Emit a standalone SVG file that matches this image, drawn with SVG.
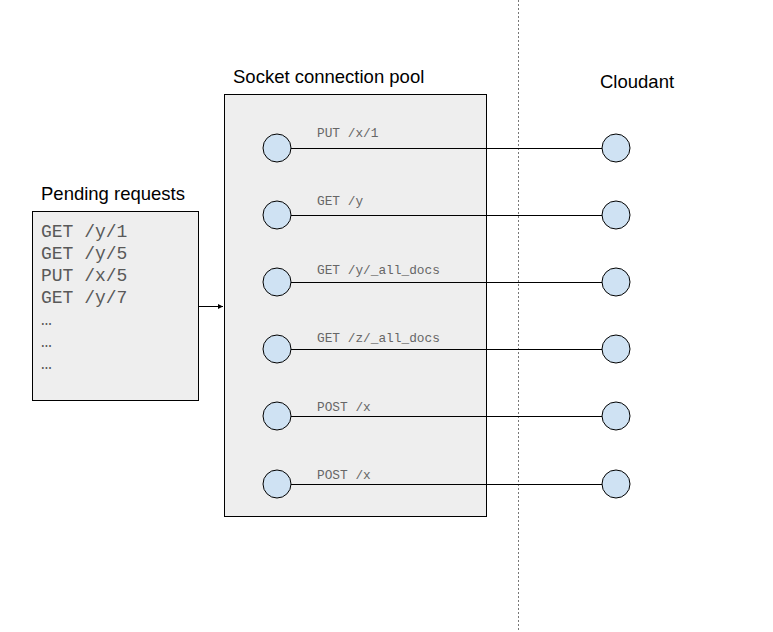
<svg xmlns="http://www.w3.org/2000/svg" width="773" height="632" viewBox="0 0 773 632">
<style>
.box{fill:#eeeeee;stroke:#000;stroke-width:1}
.node{fill:#cfe2f3;stroke:#000;stroke-width:1}
.title{font-family:"Liberation Sans",Arial,sans-serif;font-size:18.5px;fill:#000}
.req{font-family:"Liberation Mono","Courier New",monospace;font-size:18px;fill:#595959}
.lbl{font-family:"Liberation Mono","Courier New",monospace;font-size:12.8px;fill:#666}
.conn{stroke:#000;stroke-width:1;fill:none}
</style>
<defs>
<marker id="arr" markerWidth="6" markerHeight="6" refX="5" refY="3" orient="auto" markerUnits="userSpaceOnUse">
<path d="M0,0.5 L5,3 L0,5.5 z" fill="#000"/>
</marker>
</defs>
<rect width="773" height="632" fill="#fff"/>
<line x1="518.5" y1="0" x2="518.5" y2="632" stroke="#777" stroke-width="1" stroke-dasharray="2,2"/>
<g id="pending">
<text class="title" x="41" y="200">Pending requests</text>
<rect class="box" x="32.5" y="211.5" width="166" height="189"/>
<text class="req" x="41" y="237">GET /y/1</text>
<text class="req" x="41" y="259">GET /y/5</text>
<text class="req" x="41" y="281">PUT /x/5</text>
<text class="req" x="41" y="303">GET /y/7</text>
<text class="req" x="41" y="325" font-size="12">…</text>
<text class="req" x="41" y="347" font-size="12">…</text>
<text class="req" x="41" y="369" font-size="12">…</text>
</g>
<g id="pool">
<text class="title" x="233" y="83">Socket connection pool</text>
<rect class="box" x="224.5" y="94.5" width="262" height="422"/>
</g>
<g id="cloudant-title">
<text class="title" x="600" y="88">Cloudant</text>
</g>
<g id="connectors">
<line class="conn" x1="198.5" y1="306.5" x2="223" y2="306.5" marker-end="url(#arr)"/>
<line class="conn" x1="291" y1="148.5" x2="602" y2="148.5"/>
<line class="conn" x1="291" y1="215.5" x2="602" y2="215.5"/>
<line class="conn" x1="291" y1="282.5" x2="602" y2="282.5"/>
<line class="conn" x1="291" y1="349.5" x2="602" y2="349.5"/>
<line class="conn" x1="291" y1="416.5" x2="602" y2="416.5"/>
<line class="conn" x1="291" y1="484.5" x2="602" y2="484.5"/>
<text class="lbl" x="317" y="137">PUT /x/1</text>
<text class="lbl" x="317" y="205">GET /y</text>
<text class="lbl" x="317" y="274">GET /y/_all_docs</text>
<text class="lbl" x="317" y="342">GET /z/_all_docs</text>
<text class="lbl" x="317" y="411">POST /x</text>
<text class="lbl" x="317" y="479">POST /x</text>
</g>
<g id="socket-1"><circle class="node" cx="277" cy="148" r="14"/></g>
<g id="socket-2"><circle class="node" cx="277" cy="215" r="14"/></g>
<g id="socket-3"><circle class="node" cx="277" cy="282" r="14"/></g>
<g id="socket-4"><circle class="node" cx="277" cy="349" r="14"/></g>
<g id="socket-5"><circle class="node" cx="277" cy="416" r="14"/></g>
<g id="socket-6"><circle class="node" cx="277" cy="484" r="14"/></g>
<g id="cloudant-1"><circle class="node" cx="616" cy="148" r="14"/></g>
<g id="cloudant-2"><circle class="node" cx="616" cy="215" r="14"/></g>
<g id="cloudant-3"><circle class="node" cx="616" cy="282" r="14"/></g>
<g id="cloudant-4"><circle class="node" cx="616" cy="349" r="14"/></g>
<g id="cloudant-5"><circle class="node" cx="616" cy="416" r="14"/></g>
<g id="cloudant-6"><circle class="node" cx="616" cy="484" r="14"/></g>
</svg>
